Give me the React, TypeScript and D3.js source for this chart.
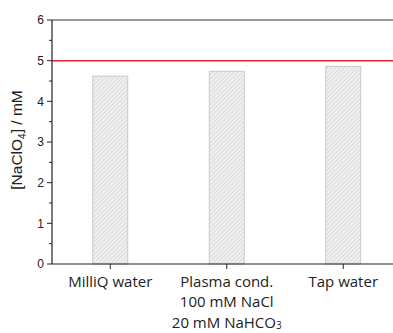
import React from "react";
import * as d3 from "d3";

const categories = ["MilliQ water", "Plasma cond.", "Tap water"];
const categoryLines = [
  ["MilliQ water"],
  ["Plasma cond.", "100 mM NaCl", "20 mM NaHCO3"],
  ["Tap water"]
];
const values = [4.62, 4.74, 4.86];
const yTicks = [0, 1, 2, 3, 4, 5, 6];
const yMinorTicks = [0.5, 1.5, 2.5, 3.5, 4.5, 5.5];
const refLevel = 5;

const width = 393;
const height = 333;
const margin = { left: 52, top: 20, bottom: 69 };

export default function App() {
  const x = d3
    .scaleBand()
    .domain(categories)
    .range([margin.left, 401.5])
    .paddingInner(0.7)
    .paddingOuter(0.35);
  const y = d3
    .scaleLinear()
    .domain([0, 6])
    .range([height - margin.bottom, margin.top]);

  const y0 = y(0);
  const xEnd = width;

  const renderLabel = (line: string) => {
    if (line.endsWith("NaHCO3")) {
      return (
        <>
          {line.slice(0, -1)}
          <tspan fontSize={10} dy={1.5}>3</tspan>
        </>
      );
    }
    return line;
  };

  return (
    <svg
      width={width}
      height={height}
      style={{ position: "absolute", left: 0, top: 0, background: "#fff" }}
    >
      <defs>
        <pattern
          id="hatch"
          patternUnits="userSpaceOnUse"
          width={3}
          height={3}
          patternTransform="rotate(-45)"
        >
          <rect width={3} height={3} fill="#f0f0f0" />
          <line x1={0} y1={0} x2={3} y2={0} stroke="#c4c4c4" strokeWidth={1} />
        </pattern>
      </defs>

      {categories.map((c, i) => (
        <rect
          key={c}
          x={x(c)}
          y={y(values[i])}
          width={x.bandwidth()}
          height={y0 - y(values[i])}
          fill="url(#hatch)"
          stroke="#c8c8c8"
          strokeWidth={1}
        />
      ))}

      {/* reference line */}
      <line
        x1={margin.left}
        x2={xEnd}
        y1={y(refLevel)}
        y2={y(refLevel)}
        stroke="#e8242b"
        strokeWidth={1.5}
      />

      {/* frame */}
      <line x1={margin.left} x2={xEnd} y1={y(6)} y2={y(6)} stroke="#333" strokeWidth={1.2} />
      <line x1={margin.left} x2={xEnd} y1={y0} y2={y0} stroke="#222" strokeWidth={1.2} />
      <line x1={margin.left} x2={margin.left} y1={y(6)} y2={y0} stroke="#222" strokeWidth={1.2} />

      {/* y ticks */}
      {yTicks.map(t => (
        <g key={t}>
          <line x1={margin.left - 5} x2={margin.left} y1={y(t)} y2={y(t)} stroke="#222" strokeWidth={1} />
          <text
            x={margin.left - 8}
            y={y(t)}
            dy="0.35em"
            textAnchor="end"
            fontFamily="Liberation Sans, Arial, sans-serif"
            fontSize={12}
            fill="#222"
          >
            {t}
          </text>
        </g>
      ))}
      {yMinorTicks.map(t => (
        <line key={t} x1={margin.left - 3} x2={margin.left} y1={y(t)} y2={y(t)} stroke="#222" strokeWidth={1} />
      ))}

      {/* x ticks and labels */}
      {categories.map((c, i) => {
        const cx = (x(c) as number) + x.bandwidth() / 2;
        return (
          <g key={c}>
            <line x1={cx} x2={cx} y1={y0} y2={y0 + 5} stroke="#222" strokeWidth={1} />
            {categoryLines[i].map((line, j) => (
              <text
                key={j}
                x={cx}
                y={y0 + 22.5 + j * 20.5}
                textAnchor="middle"
                fontFamily="Open Sans, sans-serif"
                fontSize={15}
                fill="#222"
              >
                {renderLabel(line)}
              </text>
            ))}
          </g>
        );
      })}

      {/* y label */}
      <text
        transform={`translate(22, ${(margin.top + y0) / 2 - 2}) rotate(-90)`}
        textAnchor="middle"
        fontFamily="Liberation Sans, Arial, sans-serif"
        fontSize={15.5}
        fill="#222"
      >
        [NaClO<tspan fontSize={10} dy={4}>4</tspan>
        <tspan dy={-4}>] / mM</tspan>
      </text>
    </svg>
  );
}
